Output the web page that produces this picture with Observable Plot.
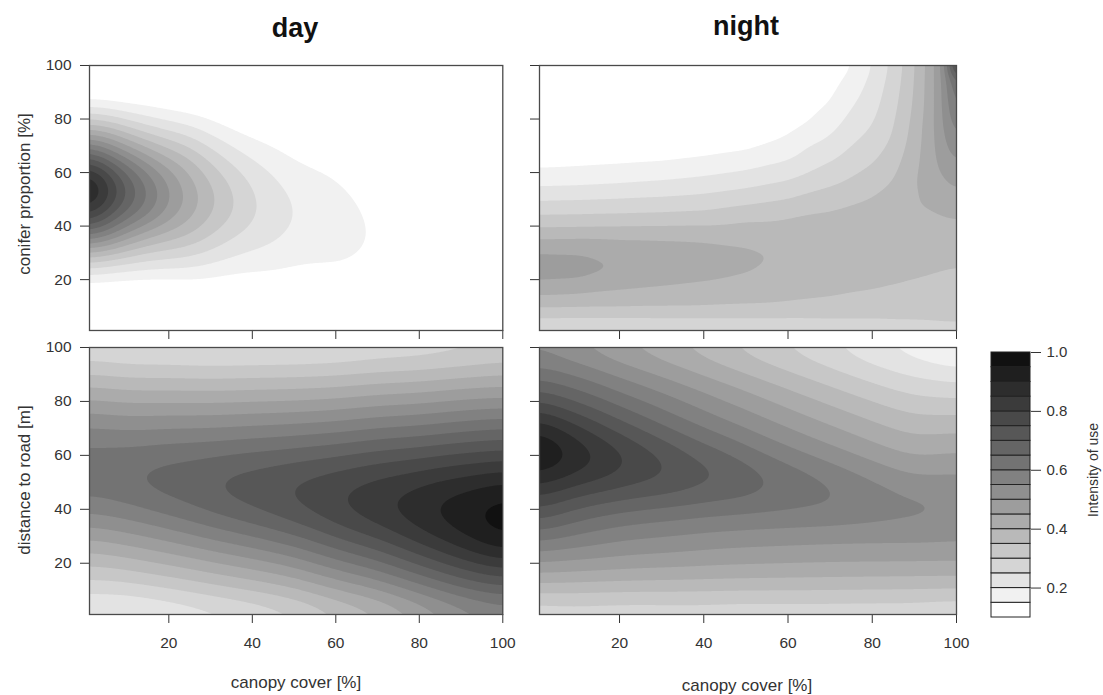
<!DOCTYPE html>
<html>
<head>
<meta charset="utf-8">
<script src="https://cdn.jsdelivr.net/npm/d3@7"></script>
<script src="https://cdn.jsdelivr.net/npm/@observablehq/plot@0.6"></script>
<style>
  body { margin: 0; background: #fff; }
  #fig { position: relative; width: 1103px; height: 695px; overflow: hidden;
         font-family: "Liberation Sans", Arial, sans-serif; color: #333; }
  .t { position: absolute; transform: translate(-50%, -50%); white-space: nowrap; line-height: 1; }
  .r { position: absolute; transform: translate(-50%, -50%) rotate(-90deg); white-space: nowrap; line-height: 1; }
  .title { font-weight: bold; font-size: 27px; color: #111; }
  .lab { font-size: 17px; color: #333; }
  .leglab { font-size: 14px; color: #333; }
</style>
</head>
<body>
<div id="fig"></div>
<script>
// ---------- data ----------
const tickValues = [20, 40, 60, 80, 100];
const levels = [0.10, 0.15, 0.20, 0.25, 0.30, 0.35, 0.40, 0.45, 0.50, 0.55, 0.60, 0.65, 0.70, 0.75, 0.80, 0.85, 0.90, 0.95];
const legendTicks = [0.2, 0.4, 0.6, 0.8, 1.0];

// canopy cover columns and row positions (y) of each grid
const canopy = [0, 10, 20, 30, 40, 50, 60, 70, 80, 90, 100];
const rows10 = [0, 10, 20, 30, 40, 50, 60, 70, 80, 90, 100];

// DAY – conifer proportion: one column per canopy value, values from y=0 up to y=100
const dayConifer = [
  [0.008, 0.041, 0.152, 0.400, 0.750, 1.000, 0.940, 0.607, 0.283, 0.094, 0.022],
  [0.010, 0.043, 0.138, 0.325, 0.561, 0.712, 0.663, 0.454, 0.228, 0.084, 0.023],
  [0.015, 0.053, 0.139, 0.280, 0.434, 0.518, 0.475, 0.335, 0.181, 0.076, 0.024],
  [0.025, 0.066, 0.140, 0.240, 0.332, 0.370, 0.332, 0.240, 0.140, 0.066, 0.025],
  [0.033, 0.072, 0.130, 0.196, 0.246, 0.259, 0.227, 0.166, 0.101, 0.051, 0.022],
  [0.046, 0.082, 0.127, 0.170, 0.197, 0.196, 0.168, 0.125, 0.080, 0.044, 0.021],
  [0.070, 0.103, 0.135, 0.161, 0.172, 0.166, 0.144, 0.113, 0.080, 0.051, 0.029],
  [0.078, 0.104, 0.127, 0.142, 0.144, 0.134, 0.113, 0.087, 0.062, 0.040, 0.023],
  [0.083, 0.103, 0.118, 0.125, 0.122, 0.109, 0.091, 0.069, 0.049, 0.032, 0.019],
  [0.080, 0.095, 0.105, 0.110, 0.105, 0.095, 0.080, 0.062, 0.045, 0.030, 0.018],
  [0.075, 0.088, 0.097, 0.100, 0.097, 0.088, 0.075, 0.060, 0.043, 0.030, 0.018]
];

// NIGHT – conifer proportion (finer grid)
const nightCanopy = [0, 10, 20, 30, 40, 50, 60, 65, 70, 75, 80, 85, 90, 95, 98, 100];
const rows5 = [0, 5, 10, 15, 20, 25, 30, 35, 40, 45, 50, 55, 60, 65, 70, 75, 80, 85, 90, 95, 100];
const nightConifer = [
  [0.220, 0.294, 0.355, 0.411, 0.456, 0.475, 0.453, 0.403, 0.343, 0.291, 0.245, 0.196, 0.161, 0.129, 0.100, 0.085, 0.070, 0.060, 0.050, 0.045, 0.040],
  [0.220, 0.294, 0.354, 0.403, 0.452, 0.470, 0.450, 0.406, 0.345, 0.293, 0.248, 0.200, 0.164, 0.135, 0.105, 0.090, 0.075, 0.065, 0.055, 0.050, 0.045],
  [0.220, 0.294, 0.354, 0.394, 0.423, 0.451, 0.430, 0.404, 0.348, 0.296, 0.253, 0.207, 0.170, 0.140, 0.112, 0.095, 0.080, 0.070, 0.060, 0.055, 0.050],
  [0.225, 0.295, 0.352, 0.386, 0.413, 0.435, 0.423, 0.402, 0.350, 0.300, 0.258, 0.216, 0.178, 0.145, 0.118, 0.100, 0.086, 0.076, 0.068, 0.062, 0.058],
  [0.228, 0.295, 0.352, 0.378, 0.404, 0.423, 0.420, 0.396, 0.352, 0.306, 0.266, 0.227, 0.190, 0.155, 0.130, 0.112, 0.098, 0.088, 0.080, 0.075, 0.070],
  [0.230, 0.295, 0.348, 0.371, 0.392, 0.409, 0.408, 0.389, 0.362, 0.325, 0.282, 0.243, 0.207, 0.169, 0.140, 0.123, 0.110, 0.100, 0.093, 0.088, 0.085],
  [0.235, 0.295, 0.345, 0.361, 0.373, 0.389, 0.397, 0.377, 0.362, 0.341, 0.300, 0.264, 0.230, 0.197, 0.166, 0.145, 0.132, 0.124, 0.118, 0.115, 0.113],
  [0.240, 0.296, 0.342, 0.357, 0.368, 0.382, 0.391, 0.378, 0.366, 0.350, 0.317, 0.283, 0.250, 0.225, 0.200, 0.169, 0.145, 0.135, 0.128, 0.122, 0.117],
  [0.245, 0.298, 0.340, 0.354, 0.364, 0.375, 0.385, 0.380, 0.370, 0.353, 0.327, 0.298, 0.271, 0.244, 0.219, 0.195, 0.173, 0.152, 0.140, 0.130, 0.120],
  [0.247, 0.299, 0.335, 0.350, 0.361, 0.372, 0.382, 0.383, 0.376, 0.362, 0.340, 0.315, 0.292, 0.271, 0.250, 0.232, 0.214, 0.197, 0.179, 0.162, 0.145],
  [0.250, 0.300, 0.330, 0.347, 0.359, 0.370, 0.380, 0.385, 0.382, 0.370, 0.353, 0.333, 0.313, 0.293, 0.275, 0.257, 0.243, 0.233, 0.222, 0.211, 0.200],
  [0.260, 0.302, 0.327, 0.343, 0.354, 0.364, 0.374, 0.384, 0.389, 0.385, 0.372, 0.356, 0.342, 0.328, 0.313, 0.300, 0.293, 0.285, 0.278, 0.271, 0.264],
  [0.270, 0.302, 0.322, 0.337, 0.350, 0.360, 0.370, 0.380, 0.388, 0.394, 0.398, 0.398, 0.393, 0.385, 0.377, 0.370, 0.363, 0.357, 0.352, 0.349, 0.346],
  [0.280, 0.302, 0.320, 0.333, 0.345, 0.355, 0.366, 0.377, 0.389, 0.398, 0.410, 0.425, 0.440, 0.448, 0.452, 0.453, 0.453, 0.452, 0.452, 0.452, 0.451],
  [0.285, 0.303, 0.318, 0.330, 0.342, 0.352, 0.363, 0.375, 0.388, 0.406, 0.427, 0.447, 0.467, 0.488, 0.507, 0.524, 0.537, 0.542, 0.545, 0.548, 0.560],
  [0.290, 0.302, 0.310, 0.320, 0.339, 0.351, 0.364, 0.378, 0.392, 0.410, 0.432, 0.455, 0.480, 0.506, 0.535, 0.565, 0.596, 0.632, 0.667, 0.720, 1.000]
];

// DAY – distance to road
const dayRoad = [
  [0.160, 0.264, 0.356, 0.457, 0.567, 0.635, 0.619, 0.561, 0.461, 0.354, 0.240],
  [0.157, 0.266, 0.377, 0.488, 0.590, 0.655, 0.628, 0.547, 0.444, 0.336, 0.229],
  [0.176, 0.291, 0.408, 0.524, 0.628, 0.685, 0.642, 0.554, 0.445, 0.336, 0.226],
  [0.199, 0.321, 0.444, 0.568, 0.668, 0.712, 0.652, 0.555, 0.443, 0.331, 0.220],
  [0.223, 0.351, 0.479, 0.606, 0.708, 0.738, 0.668, 0.563, 0.449, 0.335, 0.222],
  [0.253, 0.387, 0.521, 0.650, 0.752, 0.765, 0.683, 0.570, 0.453, 0.337, 0.223],
  [0.305, 0.445, 0.585, 0.712, 0.805, 0.792, 0.700, 0.581, 0.462, 0.343, 0.228],
  [0.349, 0.494, 0.640, 0.768, 0.852, 0.822, 0.724, 0.601, 0.480, 0.358, 0.242],
  [0.414, 0.565, 0.716, 0.840, 0.902, 0.848, 0.740, 0.612, 0.489, 0.366, 0.248],
  [0.478, 0.635, 0.787, 0.908, 0.948, 0.878, 0.762, 0.633, 0.507, 0.383, 0.263],
  [0.520, 0.677, 0.840, 0.975, 0.990, 0.910, 0.775, 0.650, 0.515, 0.398, 0.282]
];

// NIGHT – distance to road
const nightRoad = [
  [0.215, 0.366, 0.500, 0.633, 0.757, 0.870, 1.000, 0.920, 0.758, 0.637, 0.525],
  [0.227, 0.365, 0.490, 0.593, 0.690, 0.815, 0.910, 0.818, 0.691, 0.595, 0.482],
  [0.222, 0.362, 0.480, 0.562, 0.658, 0.782, 0.835, 0.730, 0.628, 0.540, 0.439],
  [0.225, 0.360, 0.473, 0.550, 0.638, 0.762, 0.768, 0.656, 0.576, 0.493, 0.402],
  [0.227, 0.358, 0.467, 0.535, 0.624, 0.728, 0.696, 0.596, 0.526, 0.447, 0.362],
  [0.220, 0.356, 0.462, 0.525, 0.618, 0.702, 0.634, 0.546, 0.480, 0.403, 0.320],
  [0.224, 0.355, 0.458, 0.520, 0.612, 0.656, 0.575, 0.500, 0.433, 0.360, 0.281],
  [0.225, 0.354, 0.455, 0.515, 0.610, 0.615, 0.525, 0.458, 0.391, 0.318, 0.242],
  [0.224, 0.352, 0.453, 0.515, 0.594, 0.565, 0.480, 0.418, 0.351, 0.277, 0.198],
  [0.225, 0.351, 0.451, 0.518, 0.578, 0.520, 0.442, 0.383, 0.315, 0.242, 0.161],
  [0.210, 0.350, 0.450, 0.515, 0.552, 0.522, 0.458, 0.390, 0.310, 0.222, 0.120]
];

// ---------- drawing ----------
const fig = document.getElementById("fig");
const FONT = '"Liberation Sans", Arial, sans-serif';
const color = {type: "linear", domain: [0.10, 0.95], range: ["#ffffff", "#111111"]};

function toPoints(xs, ys, columns) {
  const pts = [];
  columns.forEach((col, i) => col.forEach((v, j) => pts.push({x: xs[i], y: ys[j], v})));
  return pts;
}

function panel(pts, [l, t, r, b], showX, showY, blur) {
  const ml = 72, mr = 26, mt = 16, mb = 50;
  const svg = Plot.plot({
    width: (r - l) + ml + mr,
    height: (b - t) + mt + mb,
    marginLeft: ml, marginRight: mr, marginTop: mt, marginBottom: mb,
    style: {fontSize: "15.5px", fontFamily: FONT, color: "#333", background: "transparent", overflow: "visible"},
    x: {domain: [1, 100], ticks: tickValues, tickSize: 9, tickPadding: 13,
        tickFormat: showX ? (d) => String(d) : () => "", label: null},
    y: {domain: [1, 100], ticks: tickValues, tickSize: 9, tickPadding: 9,
        tickFormat: showY ? (d) => String(d) : () => "", label: null},
    color,
    marks: [
      Plot.contour(pts, {x: "x", y: "y", value: "v", fill: "value", thresholds: levels,
                         interpolate: "barycentric", blur, pixelSize: 1, stroke: "none"}),
      Plot.frame({stroke: "#4a4a4a", strokeWidth: 1.3})
    ]
  });
  svg.style.position = "absolute";
  svg.style.left = (l - ml) + "px";
  svg.style.top = (t - mt) + "px";
  fig.appendChild(svg);
}

panel(toPoints(canopy, rows10, dayConifer),         [88.7, 65, 502, 330], false, true, 12);
panel(toPoints(nightCanopy, rows5, nightConifer),   [539, 65, 956, 330], false, false, 6);
panel(toPoints(canopy, rows10, dayRoad),            [88.7, 347, 502, 614], true, true, 14);
panel(toPoints(canopy, rows10, nightRoad),          [539, 347, 956, 614], true, false, 14);

// legend (colour key)
{
  const l = 991, r = 1030, t = 352, b = 617, ml = 0, mr = 60, mt = 12, mb = 12;
  const svg = Plot.plot({
    width: (r - l) + ml + mr, height: (b - t) + mt + mb,
    marginLeft: ml, marginRight: mr, marginTop: mt, marginBottom: mb,
    style: {fontSize: "15px", fontFamily: FONT, color: "#333", background: "transparent", overflow: "visible"},
    x: {domain: [0, 1], axis: null},
    y: {domain: [0.1, 1.0], ticks: legendTicks, tickFormat: ".1f", tickSize: 10, tickPadding: 6,
        axis: "right", label: null},
    color,
    marks: [
      Plot.rect(levels, {x1: 0, x2: 1, y1: (d) => d, y2: (d) => d + 0.05, fill: (d) => d,
                         stroke: "#222", strokeWidth: 1})
    ]
  });
  svg.style.position = "absolute";
  svg.style.left = (l - ml) + "px";
  svg.style.top = (t - mt) + "px";
  fig.appendChild(svg);
}

function label(str, x, y, cls) {
  const d = document.createElement("div");
  d.textContent = str;
  d.className = cls;
  d.style.left = x + "px";
  d.style.top = y + "px";
  fig.appendChild(d);
}
label("day", 295, 28, "t title");
label("night", 746, 26, "t title");
label("conifer proportion [%]", 24, 194, "r lab");
label("distance to road [m]", 24, 480, "r lab");
label("canopy cover [%]", 296, 682, "t lab");
label("canopy cover [%]", 747, 685, "t lab");
label("Intensity of use", 1093, 470, "r leglab");
</script>
</body>
</html>
